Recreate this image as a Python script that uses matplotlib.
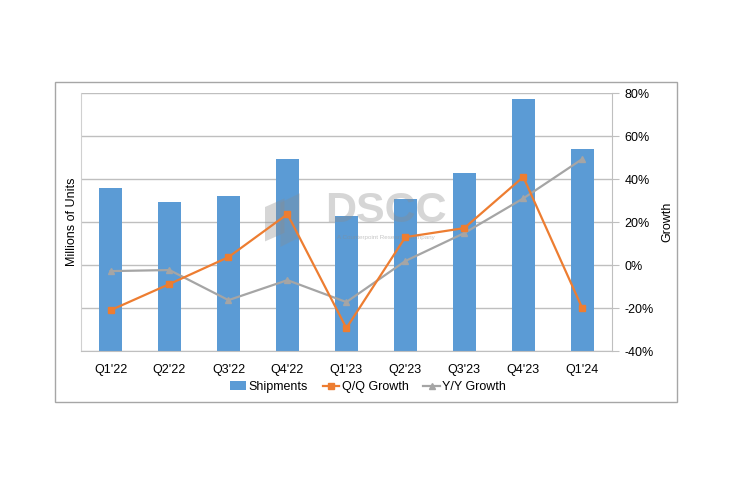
import numpy as np
import matplotlib.pyplot as plt
import matplotlib as mpl
from matplotlib.patches import Rectangle, Polygon

mpl.rcParams.update({
    "font.family": ["Liberation Sans", "DejaVu Sans"],
    "font.size": 9,
})

quarters = ["Q1'22", "Q2'22", "Q3'22", "Q4'22", "Q1'23", "Q2'23", "Q3'23", "Q4'23", "Q1'24"]
shipments = [37.9, 34.7, 36.0, 44.7, 31.4, 35.3, 41.4, 58.6, 47.0]   # left axis, unlabeled
qq_growth = [-21.0, -8.8, 3.7, 23.7, -29.3, 13.0, 17.2, 41.0, -20.0]  # %
yy_growth = [-2.8, -2.3, -16.3, -7.0, -17.2, 1.9, 14.9, 31.0, 49.3]   # %

C_BAR = "#5B9BD5"
C_QQ = "#ED7D31"
C_YY = "#A5A5A5"
C_GRID = "#BFBFBF"

fig = plt.figure(figsize=(7.30, 4.87), dpi=100)
fig.patch.set_facecolor("white")

# outer chart border
fig.patches.append(Rectangle((0.075, 0.175), 0.852, 0.657, transform=fig.transFigure,
                             fill=False, edgecolor="#A6A6A6", lw=1.0, zorder=0))

ax = fig.add_axes([0.111, 0.279, 0.727, 0.530])
ax2 = ax.twinx()

xs = np.arange(len(quarters))
ax.bar(xs, shipments, width=0.39, color=C_BAR, zorder=2, label="Shipments")
ax.set_ylim(0, 60)
ax.set_xlim(-0.5, len(quarters) - 0.5)
ax.set_yticks(np.linspace(0, 60, 7))
ax.yaxis.grid(True, color=C_GRID, lw=1.0, zorder=0)
ax.set_axisbelow(True)
ax.tick_params(axis="y", left=False, labelleft=False)
ax.tick_params(axis="x", bottom=False, pad=6)
ax.set_xticks(xs)
ax.set_xticklabels(quarters)
ax.set_ylabel("Millions of Units", labelpad=2)
for s in ["top", "right"]:
    ax.spines[s].set_visible(False)
ax.spines["left"].set_color("#D0D0D0")
ax.spines["bottom"].set_color(C_GRID)

# watermark (DSCC logo, drawn over the bars), in left-axis units
ax2.add_patch(Polygon([[2.62, 33.5], [2.95, 35.5], [2.95, 27.5], [2.62, 25.5]], closed=True,
                      facecolor="#8C8C8C", alpha=0.35, edgecolor="none", zorder=3,
                      transform=ax.transData))
ax2.add_patch(Polygon([[2.88, 34.5], [3.21, 36.7], [3.21, 26.5], [2.88, 24.2]], closed=True,
                      facecolor="#8C8C8C", alpha=0.3, edgecolor="none", zorder=3,
                      transform=ax.transData))
ax2.text(4.67, 32.6, "DSCC", fontsize=31, color="#8C8C8C", alpha=0.35,
         ha="center", va="center", weight="bold", zorder=3, transform=ax.transData)
ax2.text(4.67, 26.3, "A Counterpoint Research Company", fontsize=4.5, color="#8C8C8C",
         alpha=0.5, ha="center", va="center", zorder=3, transform=ax.transData)

ax2.plot(xs, qq_growth, color=C_QQ, lw=1.6, marker="s", ms=4.5, zorder=5, label="Q/Q Growth")
ax2.plot(xs, yy_growth, color=C_YY, lw=1.6, marker="^", ms=4.5, zorder=4, label="Y/Y Growth")
ax2.set_ylim(-40, 80)
ax2.set_yticks(np.arange(-40, 81, 20))
ax2.set_yticklabels([f"{v}%" for v in range(-40, 81, 20)])
ax2.tick_params(axis="y", length=5, color=C_GRID, pad=4)
ax2.set_ylabel("Growth", labelpad=6)
for s in ["top", "left", "bottom"]:
    ax2.spines[s].set_visible(False)
ax2.spines["right"].set_color(C_GRID)

h1, l1 = ax.get_legend_handles_labels()
h2, l2 = ax2.get_legend_handles_labels()
fig.legend(h1 + h2, l1 + l2, loc="center", bbox_to_anchor=(0.504, 0.205), ncol=3,
           frameon=False, handlelength=1.3, handletextpad=0.2, columnspacing=1.2,
           fontsize=9)

fig.savefig("out.png", dpi=100, facecolor="white")
